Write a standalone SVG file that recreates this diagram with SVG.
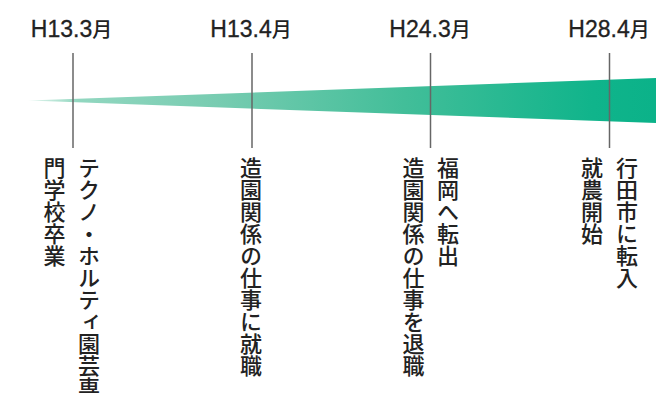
<svg xmlns="http://www.w3.org/2000/svg" width="667" height="393" viewBox="0 0 667 393">
<style>
.hd{font-family:"Liberation Sans","Noto Sans CJK JP",sans-serif;font-size:23px;fill:#222;stroke:#222;stroke-width:0.3;text-anchor:middle}
.hd .m{font-family:"Noto Sans CJK JP",sans-serif;font-size:20px;font-weight:500;stroke-width:0}
.vt{font-family:"Noto Sans CJK JP",sans-serif;font-size:22px;fill:#222;writing-mode:vertical-rl;font-weight:500}
.tick{stroke:#666;stroke-width:1.5}
</style>
<defs>
<linearGradient id="wg" gradientUnits="userSpaceOnUse" x1="28" y1="0" x2="656" y2="0">
<stop offset="0" stop-color="#e6f6f0"/>
<stop offset="0.08" stop-color="#92d7c0"/>
<stop offset="0.3" stop-color="#78ccb1"/>
<stop offset="0.6" stop-color="#42be99"/>
<stop offset="0.9" stop-color="#10b48b"/>
<stop offset="1" stop-color="#0bb289"/>
</linearGradient>
</defs>
<polygon points="28,100.6 656,78 656,123" fill="url(#wg)"/>
<g id="connectors">
<line class="tick" x1="73" y1="53" x2="73" y2="148"/>
<line class="tick" x1="252" y1="53" x2="252" y2="148"/>
<line class="tick" x1="430.5" y1="53" x2="430.5" y2="148"/>
<line class="tick" x1="609.5" y1="53" x2="609.5" y2="148"/>
</g>
<g id="n1">
<text class="hd" x="71.5" y="37">H13.3<tspan class="m">月</tspan></text>
<text class="vt" x="89" y="157">テクノ・ホルティ園芸専</text>
<text class="vt" x="54.5" y="157">門学校卒業</text>
</g>
<g id="n2">
<text class="hd" x="251" y="37">H13.4<tspan class="m">月</tspan></text>
<text class="vt" x="251" y="157">造園関係の仕事に就職</text>
</g>
<g id="n3">
<text class="hd" x="430" y="37">H24.3<tspan class="m">月</tspan></text>
<text class="vt" x="448" y="157">福岡へ転出</text>
<text class="vt" x="413.5" y="157">造園関係の仕事を退職</text>
</g>
<g id="n4">
<text class="hd" x="609" y="37">H28.4<tspan class="m">月</tspan></text>
<text class="vt" x="627" y="157">行田市に転入</text>
<text class="vt" x="592" y="157">就農開始</text>
</g>
</svg>
